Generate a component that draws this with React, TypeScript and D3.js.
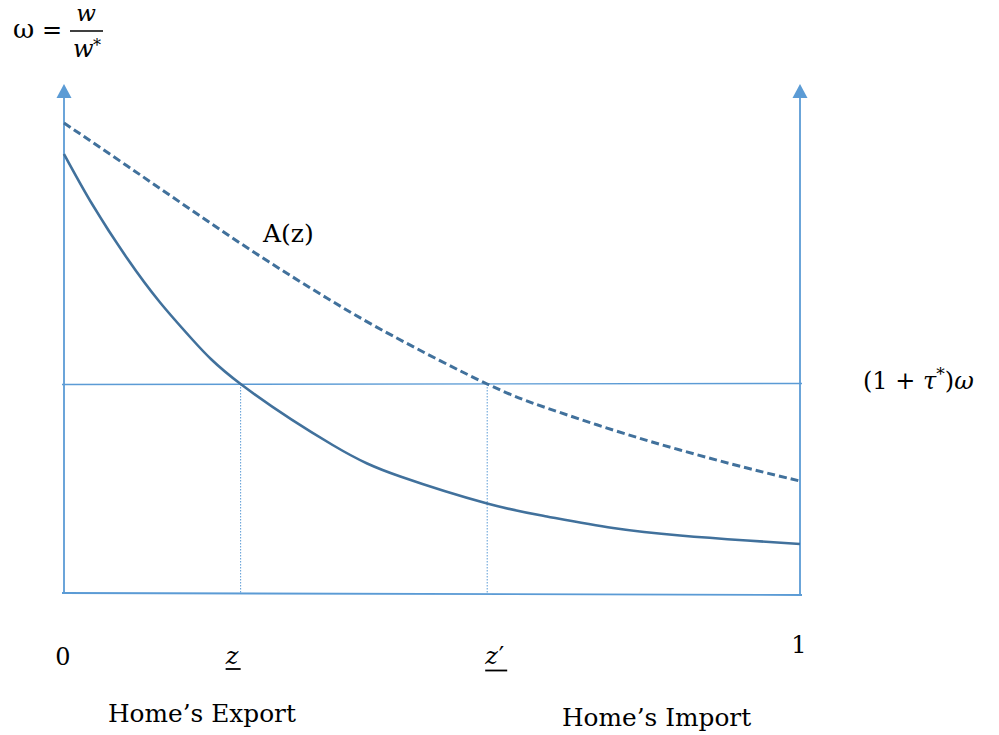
import React from 'react'
import * as d3 from 'd3'

// share of goods z on the x axis, relative wage on the y axis
const zGrid = [0, 0.039, 0.086, 0.13, 0.175, 0.24, 0.365, 0.457, 0.575, 0.656, 0.746, 0.837, 0.928, 1]
const solidCurve = [87.8, 77.6, 66.9, 58.2, 50.6, 41.8, 29.6, 23.3, 17.9, 15.3, 13.0, 11.5, 10.5, 9.8]

const dashGrid = [0, 0.086, 0.175, 0.266, 0.357, 0.447, 0.575, 0.656, 0.746, 0.837, 0.928, 1]
const dashCurve = [94, 85.4, 76.4, 67.4, 59, 51.4, 41.8, 37, 32.6, 28.6, 25.0, 22.4]

const omegaLevel = 41.8
const zMarks = [0.24, 0.575]
const axisTop = 101.8

const W = 999
const H = 735
const axisBlue = '#5b9bd5'
const curveBlue = '#41719c'
const serif = '"DejaVu Serif", "Liberation Serif", serif'

export default function App() {
  const x = d3.scaleLinear().domain([0, 1]).range([64, 800])
  const y = d3.scaleLinear().domain([0, 100]).range([593, 93])

  const line = d3.line<[number, number]>()
    .x(d => x(d[0]))
    .y(d => y(d[1]))
    .curve(d3.curveNatural)

  const solidPath = line(zGrid.map((z, i) => [z, solidCurve[i]]))
  const dashPath = line(dashGrid.map((z, i) => [z, dashCurve[i]]))

  const arrow = (cx: number) => {
    const tip = y(axisTop)
    return `M${cx},${tip} L${cx - 7.5},${tip + 14} L${cx + 7.5},${tip + 14} Z`
  }

  return (
    <svg width={W} height={H} style={{ position: 'absolute', left: 0, top: 0, background: '#fff' }}
      fontFamily={serif}>
      {/* axes */}
      <line x1={x(0)} x2={x(0)} y1={y(0)} y2={y(axisTop) + 12} stroke={axisBlue} strokeWidth={1.8} />
      <line x1={x(1)} x2={x(1)} y1={y(0) + 2} y2={y(axisTop) + 12} stroke={axisBlue} strokeWidth={1.8} />
      <path d={arrow(x(0))} fill={axisBlue} />
      <path d={arrow(x(1))} fill={axisBlue} />
      <line x1={x(0) - 2} x2={x(1) + 2} y1={y(0)} y2={y(0) + 2} stroke={axisBlue} strokeWidth={1.8} />

      {/* (1 + tau*) omega level */}
      <line x1={x(0) - 2} x2={x(1) + 2} y1={y(omegaLevel) + 0.5} y2={y(omegaLevel) - 0.5}
        stroke={axisBlue} strokeWidth={1.4} />

      {zMarks.map((z, i) => (
        <line key={i} x1={x(z)} x2={x(z)} y1={y(omegaLevel)} y2={y(0)}
          stroke={axisBlue} strokeWidth={1} strokeDasharray="1.5 1.5" />
      ))}

      <path d={dashPath || ''} fill="none" stroke={curveBlue} strokeWidth={3} strokeDasharray="8 4" />
      <path d={solidPath || ''} fill="none" stroke={curveBlue} strokeWidth={2.6} />

      {/* labels */}
      <text x={263} y={242} fontSize={25}>A(z)</text>

      <text x={13} y={38} fontSize={26}>ω</text>
      <text x={42} y={38} fontSize={24}>=</text>
      <line x1={70} x2={103} y1={31} y2={31} stroke="#000" strokeWidth={1.6} />
      <text x={86} y={21} fontSize={23} fontStyle="italic" textAnchor="middle">w</text>
      <text x={73} y={57} fontSize={24} fontStyle="italic">w</text>
      <text x={93} y={51} fontSize={16}>*</text>

      <text x={863} y={389} fontSize={24}>
        <tspan>(1 + </tspan>
        <tspan fontStyle="italic">τ</tspan>
        <tspan fontSize={17} dy={-9}>*</tspan>
        <tspan dy={9}>)</tspan>
        <tspan fontStyle="italic">ω</tspan>
      </text>

      <text x={x(0) - 1} y={665} fontSize={24} textAnchor="middle">0</text>
      <text x={x(1) - 1} y={653} fontSize={24} textAnchor="middle">1</text>

      <text x={x(zMarks[0]) - 15} y={664} fontSize={24} fontStyle="italic">z</text>
      <line x1={x(zMarks[0]) - 15} x2={x(zMarks[0])} y1={669} y2={669} stroke="#000" strokeWidth={1.8} />
      <text x={x(zMarks[1]) - 2} y={664} fontSize={24}>
        <tspan fontStyle="italic">z</tspan>
        <tspan dx={1}>′</tspan>
      </text>
      <line x1={x(zMarks[1]) - 2} x2={x(zMarks[1]) + 20} y1={670.5} y2={670.5} stroke="#000" strokeWidth={1.8} />

      <text x={108} y={722} fontSize={24.8}>Home’s Export</text>
      <text x={562} y={726} fontSize={24.8}>Home’s Import</text>
    </svg>
  )
}
